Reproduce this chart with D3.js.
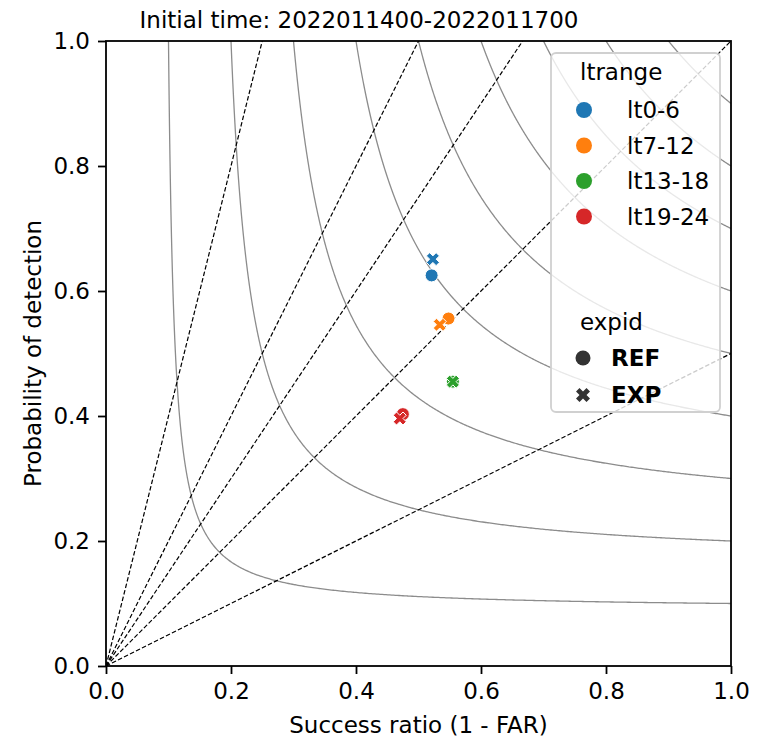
<!DOCTYPE html>
<html>
<head>
<meta charset="utf-8">
<script src="https://cdn.jsdelivr.net/npm/d3@7"></script>
<style>
  html, body { margin: 0; padding: 0; background: #fff; }
  svg text { font-family: "DejaVu Sans", sans-serif; fill: #000; }
</style>
</head>
<body>
<svg id="chart" width="761" height="740"></svg>
<script>
// ---- data ----
const title = "Initial time: 2022011400-2022011700";
const ltranges = ["lt0-6", "lt7-12", "lt13-18", "lt19-24"];
const colors = ["#1f77b4", "#ff7f0e", "#2ca02c", "#d62728"];
const expids = ["REF", "EXP"];
// success ratio per ltrange
const refSR  = [0.521, 0.548, 0.555, 0.475];
const refPOD = [0.625, 0.556, 0.455, 0.403];
const expSR  = [0.523, 0.534, 0.555, 0.470];
const expPOD = [0.651, 0.546, 0.455, 0.396];
const csiLevels = [0.1, 0.2, 0.3, 0.4, 0.5, 0.6, 0.7, 0.8, 0.9];
const biasLevels = [0.5, 1, 1.5, 2, 4];
const tickValues = [0, 0.2, 0.4, 0.6, 0.8, 1.0];

// ---- layout ----
const svg = d3.select("#chart");
const X0 = 106, X1 = 731, Y0 = 666, Y1 = 41;
const FS = 23;
const x = d3.scaleLinear().domain([0, 1]).range([X0, X1]);
const y = d3.scaleLinear().domain([0, 1]).range([Y0, Y1]);

svg.append("defs").append("clipPath").attr("id", "clip")
  .append("rect").attr("x", X0).attr("y", Y1).attr("width", X1 - X0).attr("height", Y0 - Y1);

const plot = svg.append("g").attr("clip-path", "url(#clip)");

// CSI contours
const line = d3.line().x(d => x(d[0])).y(d => y(d[1]));
csiLevels.forEach(c => {
  const pts = [];
  const n = 300;
  for (let i = 0; i <= n; i++) {
    const sr = c + (1 - c) * i / n;
    const pod = 1 / (1 / c + 1 - 1 / sr);
    pts.push([sr, pod]);
    const pod2 = c + (1 - c) * i / n;
    const sr2 = 1 / (1 / c + 1 - 1 / pod2);
    pts.push([sr2, pod2]);
  }
  pts.sort((a, b) => a[0] - b[0] || b[1] - a[1]);
  plot.append("path").attr("d", line(pts))
    .attr("fill", "none").attr("stroke", "#8c8c8c").attr("stroke-width", 1.3);
});

// bias lines
biasLevels.forEach(b => {
  const end = b >= 1 ? [1 / b, 1] : [1, b];
  plot.append("path").attr("d", line([[0, 0], end]))
    .attr("fill", "none").attr("stroke", "#000").attr("stroke-width", 1.2)
    .attr("stroke-dasharray", "4.5,2.2");
});

// marker shapes
const plus = [[-1,-3],[1,-3],[1,-1],[3,-1],[3,1],[1,1],[1,3],[-1,3],[-1,1],[-3,1],[-3,-1],[-1,-1]];
function xPath(half) {
  const k = half / (4 / Math.SQRT2);
  return "M" + plus.map(([a, b]) => [((a - b) / Math.SQRT2) * k, ((a + b) / Math.SQRT2) * k].map(v => v.toFixed(2)).join(",")).join("L") + "Z";
}

// points: REF circles then EXP crosses
const pts = svg.append("g");
ltranges.forEach((lt, i) => {
  pts.append("circle").attr("cx", x(refSR[i])).attr("cy", y(refPOD[i])).attr("r", 6.5)
    .attr("fill", colors[i]).attr("stroke", "#fff").attr("stroke-width", 1);
});
ltranges.forEach((lt, i) => {
  pts.append("path").attr("d", xPath(6.5))
    .attr("transform", `translate(${x(expSR[i])},${y(expPOD[i])})`)
    .attr("fill", colors[i]).attr("stroke", "#fff").attr("stroke-width", 1);
});

// axes frame
svg.append("rect").attr("x", X0).attr("y", Y1).attr("width", X1 - X0).attr("height", Y0 - Y1)
  .attr("fill", "none").attr("stroke", "#000").attr("stroke-width", 1.8);

const fmt = d3.format(".1f");
const xAxis = svg.append("g").attr("transform", `translate(0,${Y0})`)
  .call(d3.axisBottom(x).tickValues(tickValues).tickFormat(fmt).tickSize(8).tickPadding(9));
const yAxis = svg.append("g").attr("transform", `translate(${X0},0)`)
  .call(d3.axisLeft(y).tickValues(tickValues).tickFormat(fmt).tickSize(8).tickPadding(8));
[xAxis, yAxis].forEach(a => {
  a.select(".domain").remove();
  a.selectAll(".tick line").attr("stroke", "#000").attr("stroke-width", 1.8);
  a.selectAll(".tick text").attr("font-size", FS).attr("font-family", "DejaVu Sans").attr("fill", "#000");
});

// axis labels
svg.append("text").attr("x", (X0 + X1) / 2).attr("y", 733).attr("text-anchor", "middle")
  .attr("font-size", FS).text("Success ratio (1 - FAR)");
svg.append("text").attr("transform", `translate(41,${(Y0 + Y1) / 2}) rotate(-90)`)
  .attr("text-anchor", "middle").attr("font-size", FS).text("Probability of detection");

// title
svg.append("text").attr("x", 359).attr("y", 28).attr("text-anchor", "middle")
  .attr("font-size", FS).text(title);

// legend
const lg = svg.append("g");
lg.append("rect").attr("x", 551).attr("y", 53).attr("width", 169).attr("height", 359)
  .attr("rx", 5).attr("fill", "#fff").attr("fill-opacity", 0.8)
  .attr("stroke", "#d0d0d0").attr("stroke-width", 1.8);
lg.append("text").attr("x", 580).attr("y", 80).attr("font-size", FS).text("ltrange");
const rowY = [110, 145.5, 181, 216.5];
ltranges.forEach((lt, i) => {
  lg.append("circle").attr("cx", 584).attr("cy", rowY[i]).attr("r", 8).attr("fill", colors[i]);
  lg.append("text").attr("x", 627).attr("y", rowY[i] + 8).attr("font-size", FS).text(lt);
});
lg.append("text").attr("x", 580).attr("y", 330).attr("font-size", FS).text("expid");
lg.append("circle").attr("cx", 583).attr("cy", 358).attr("r", 7.5).attr("fill", "#333");
lg.append("path").attr("d", xPath(7)).attr("transform", "translate(583,395)").attr("fill", "#333");
lg.append("text").attr("x", 611).attr("y", 366).attr("font-size", FS).attr("font-weight", "bold").text(expids[0]);
lg.append("text").attr("x", 611).attr("y", 403).attr("font-size", FS).attr("font-weight", "bold").text(expids[1]);
</script>
</body>
</html>
